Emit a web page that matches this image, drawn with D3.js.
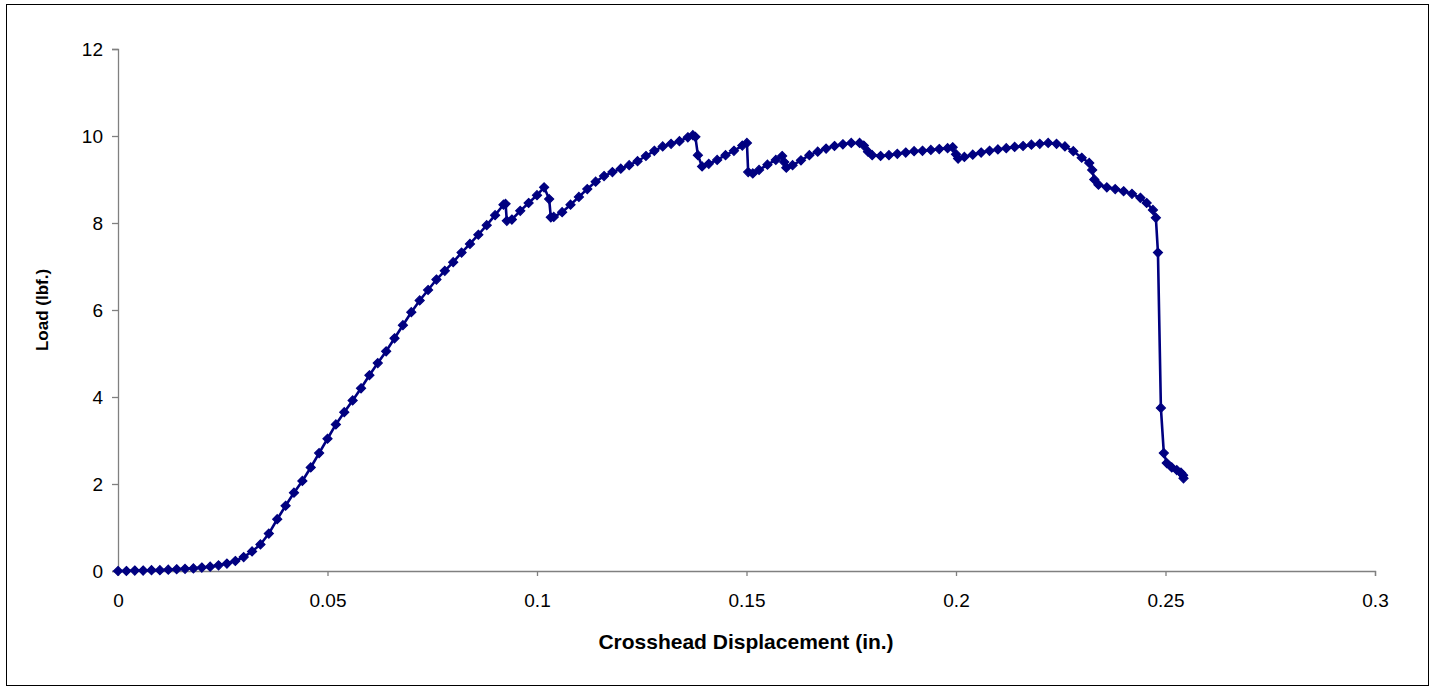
<!DOCTYPE html>
<html><head><meta charset="utf-8">
<script src="https://cdn.jsdelivr.net/npm/d3@7"></script>
<style>body{margin:0;background:#fff;} svg{display:block;}</style>
</head><body>
<svg id="chart" width="1433" height="688"></svg>
<script>
// Crosshead displacement (in.)
const displacement = [0,0.002,0.004,0.006,0.008,0.010,0.012,0.014,0.016,0.018,0.020,0.022,0.024,
0.026,0.028,0.030,0.032,0.034,0.036,0.038,0.040,0.042,0.044,0.046,0.048,0.050,0.052,0.054,0.056,0.058,
0.060,0.062,0.064,0.066,0.068,0.070,0.072,0.074,0.076,0.078,0.080,0.082,0.084,0.086,0.088,0.090,0.092,0.0925,
0.0928,0.094,0.096,0.098,0.100,0.1017,0.1029,0.1033,0.104,0.106,0.108,0.110,0.112,0.114,0.116,0.118,0.120,0.122,
0.124,0.126,0.128,0.130,0.132,0.134,0.136,0.1372,0.1378,0.1384,0.1394,0.141,0.143,0.145,0.147,0.149,0.1501,
0.1504,0.1515,0.153,0.155,0.157,0.1585,0.159,0.1595,0.161,0.163,0.165,0.167,0.169,0.171,0.173,0.175,0.177,
0.178,0.179,0.180,0.182,0.184,0.186,0.188,0.190,0.192,0.194,0.196,0.198,0.1992,0.200,0.2005,0.202,0.204,0.206,
0.208,0.210,0.212,0.214,0.216,0.218,0.220,0.222,0.224,0.226,0.228,0.230,0.2318,0.2325,0.233,0.234,0.236,0.238,
0.240,0.242,0.244,0.2455,0.247,0.2477,0.2482,0.2489,0.2496,0.2503,0.2515,0.2527,0.2537,0.2542,0.2543];
// Load (lbf.)
const load = [0,0.00,0.01,0.01,0.02,0.02,0.03,0.04,0.05,0.06,0.08,0.10,0.13,
0.17,0.23,0.32,0.45,0.61,0.86,1.19,1.50,1.80,2.07,2.38,2.71,3.04,3.37,3.65,3.92,4.20,
4.50,4.78,5.05,5.35,5.65,5.95,6.22,6.46,6.70,6.90,7.10,7.32,7.52,7.73,7.95,8.18,8.42,8.44,
8.05,8.08,8.28,8.46,8.64,8.82,8.55,8.13,8.14,8.25,8.42,8.60,8.78,8.95,9.08,9.17,9.25,9.33,
9.42,9.54,9.66,9.76,9.82,9.88,9.97,10.02,9.98,9.56,9.30,9.36,9.45,9.56,9.66,9.78,9.84,
9.17,9.14,9.22,9.34,9.45,9.54,9.40,9.27,9.33,9.44,9.56,9.64,9.71,9.77,9.81,9.84,9.84,
9.78,9.64,9.56,9.54,9.56,9.59,9.62,9.65,9.66,9.68,9.70,9.72,9.74,9.58,9.48,9.52,9.57,9.62,
9.66,9.69,9.72,9.75,9.77,9.80,9.82,9.84,9.82,9.76,9.65,9.50,9.38,9.22,9.00,8.88,8.82,8.78,
8.73,8.67,8.58,8.46,8.30,8.12,7.32,3.75,2.71,2.48,2.38,2.32,2.26,2.20,2.13];
const xTicks = [0,0.05,0.1,0.15,0.2,0.25,0.3];
const yTicks = [0,2,4,6,8,10,12];
const xTitle = "Crosshead Displacement (in.)";
const yTitle = "Load (lbf.)";

const svg = d3.select("#chart");
const font = "Liberation Sans, Arial, sans-serif";
svg.append("rect").attr("x",6.5).attr("y",4.5).attr("width",1422).attr("height",681)
  .attr("fill","#fff").attr("stroke","#000").attr("stroke-width",1);

const x = d3.scaleLinear().domain([0,0.3]).range([118,1375]);
const y = d3.scaleLinear().domain([0,12]).range([571,49]);

const xAxis = svg.append("g").attr("transform","translate(0,571)")
  .call(d3.axisBottom(x).tickValues(xTicks).tickSize(5).tickPadding(18).tickFormat(d=>String(d)));
const yAxis = svg.append("g").attr("transform","translate(118,0)")
  .call(d3.axisLeft(y).tickValues(yTicks).tickSize(6).tickPadding(9).tickFormat(d=>String(d)));
[xAxis,yAxis].forEach(g=>{
  g.selectAll("path,line").attr("stroke","#808080").attr("stroke-width",1.3);
  g.selectAll("text").attr("font-family",font).attr("font-size",19).attr("fill","#000");
});
yAxis.selectAll("text").attr("dy","0.35em");

const pts = displacement.map((d,i)=>[d,load[i]]);
svg.append("path").datum(pts)
  .attr("d", d3.line().x(d=>x(d[0])).y(d=>y(d[1])))
  .attr("fill","none").attr("stroke","#000080").attr("stroke-width",2.6);
const sym = d3.symbol().type(d3.symbolDiamond2).size(52);
svg.append("g").selectAll("path").data(pts).join("path")
  .attr("transform",d=>`translate(${x(d[0])},${y(d[1])})`)
  .attr("d",sym).attr("fill","#000080").attr("stroke","#000080").attr("stroke-width",1.2);

svg.append("text").attr("x",746).attr("y",649).attr("text-anchor","middle")
  .attr("font-family",font).attr("font-weight","bold").attr("font-size",21).text(xTitle);
svg.append("text").attr("transform","translate(48,310) rotate(-90)").attr("text-anchor","middle")
  .attr("font-family",font).attr("font-weight","bold").attr("font-size",17).text(yTitle);
</script>
</body></html>
